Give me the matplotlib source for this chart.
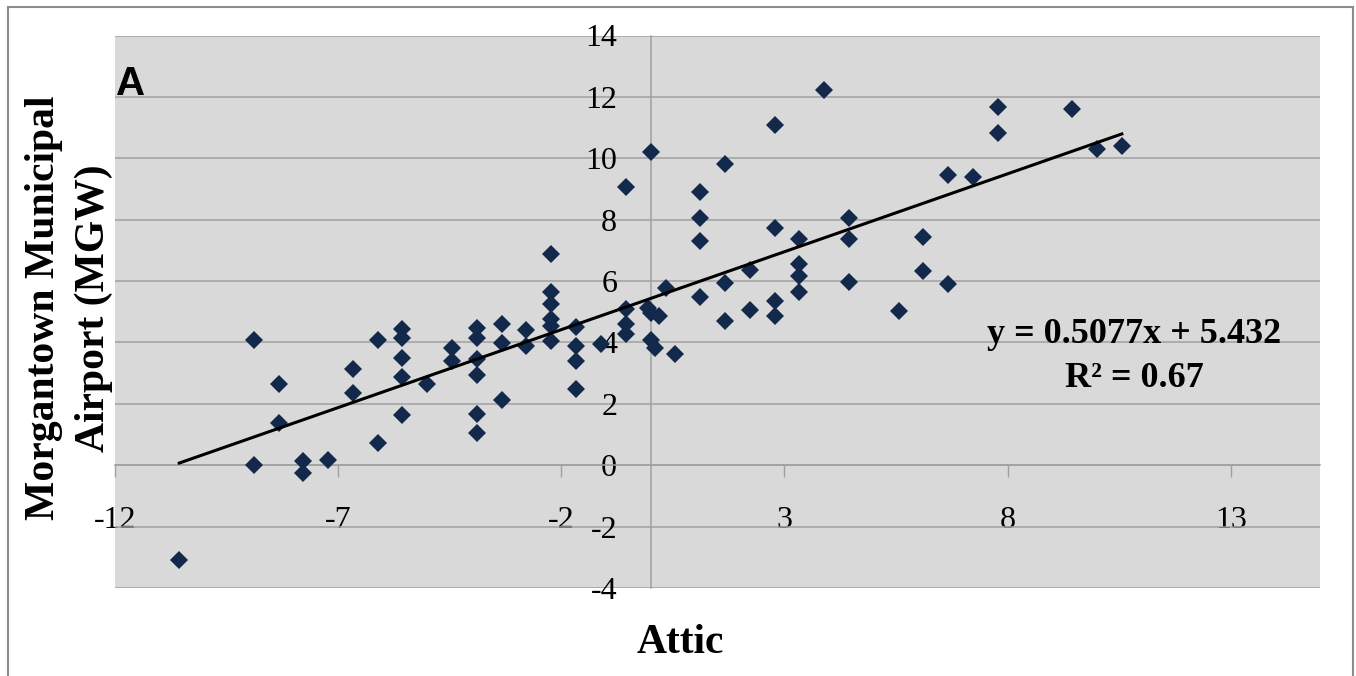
import numpy as np
import matplotlib
matplotlib.use("Agg")
import matplotlib.pyplot as plt
from matplotlib.patches import Rectangle

plt.rcParams['axes.unicode_minus'] = False

# Attic vs Morgantown Municipal Airport (MGW)
attic = [-10.56,
         -8.89, -8.89,
         -8.33, -8.33,
         -7.78, -7.78,
         -7.22,
         -6.67, -6.67,
         -6.11, -6.11,
         -5.56, -5.56, -5.56, -5.56, -5.56,
         -5.00,
         -4.44, -4.44,
         -3.89, -3.89, -3.89, -3.89, -3.89, -3.89,
         -3.33, -3.33, -3.33,
         -2.78, -2.78,
         -2.22, -2.22, -2.22, -2.22, -2.22, -2.22,
         -1.67, -1.67, -1.67, -1.67,
         -1.11,
         -0.56, -0.56, -0.56, -0.56,
         -0.05, 0.00, 0.00, 0.00,
         0.10, 0.20, 0.35, 0.54,
         1.11, 1.11, 1.11, 1.11,
         1.67, 1.67, 1.67,
         2.22, 2.22,
         2.78, 2.78, 2.78, 2.78,
         3.33, 3.33, 3.33, 3.33,
         3.89,
         4.44, 4.44, 4.44,
         5.56,
         6.11, 6.11,
         6.67, 6.67,
         7.22,
         7.78, 7.78,
         9.44, 10.00, 10.56]
mgw = [-3.10,
       4.08, 0.00,
       2.65, 1.38,
       0.14, -0.25,
       0.16,
       3.14, 2.35,
       4.07, 0.73,
       4.43, 4.16, 3.49, 2.87, 1.63,
       2.63,
       3.82, 3.40,
       4.48, 4.16, 3.45, 2.94, 1.68, 1.06,
       4.60, 3.98, 2.13,
       4.39, 3.89,
       6.88, 5.63, 5.25, 4.76, 4.55, 4.05,
       4.49, 3.89, 3.40, 2.47,
       3.95,
       9.07, 5.09, 4.60, 4.27,
       5.12, 10.19, 4.95, 4.08,
       3.82, 4.87, 5.79, 3.62,
       8.89, 8.05, 7.31, 5.49,
       9.81, 5.95, 4.70,
       6.36, 5.05,
       11.10, 7.74, 5.36, 4.86,
       7.37, 6.57, 6.17, 5.63,
       12.24,
       8.05, 7.37, 5.98,
       5.01,
       7.44, 6.34,
       9.47, 5.90,
       9.38,
       11.68, 10.81,
       11.61, 10.30, 10.39]

trend_slope = 0.5077
trend_intercept = 5.432
r_squared = 0.67

x_ticks = [-12, -7, -2, 3, 8, 13]
y_ticks = [-4, -2, 0, 2, 4, 6, 8, 10, 12, 14]

W, H = 1356, 676
fig = plt.figure(figsize=(W / 100, H / 100), dpi=100)

# outer chart border
fig.patches.append(Rectangle((8 / W, -0.01), (1353 - 8) / W, 1 - 7 / H + 0.01,
                             transform=fig.transFigure, fill=False,
                             edgecolor='#8c8c8c', linewidth=1.5))

ax = fig.add_axes([115 / W, 1 - 588 / H, (1320 - 115) / W, (588 - 35.5) / H])
ax.set_facecolor('#d9d9d9')
ax.set_xlim(-12, 15)
ax.set_ylim(-4, 14)
ax.set_xticks(x_ticks)
ax.set_xticklabels([str(t) for t in x_ticks])
ax.set_yticks(y_ticks)
ax.set_yticklabels([str(t) for t in y_ticks])

ax.set_axisbelow(True)
ax.yaxis.grid(True, color='#a0a0a0', linewidth=1.1)
ax.xaxis.grid(False)

for s in ['top', 'right']:
    ax.spines[s].set_visible(False)
ax.spines['left'].set_position(('data', 0))
ax.spines['bottom'].set_position(('data', 0))
for s in ['left', 'bottom']:
    ax.spines[s].set_color('#a0a0a0')
    ax.spines[s].set_linewidth(1.1)

ax.tick_params(axis='x', direction='out', length=8.5, width=1.0, color='#a0a0a0',
               labelsize=23, pad=21)
ax.tick_params(axis='y', length=0, labelsize=23, pad=24)
for lab in ax.get_xticklabels() + ax.get_yticklabels():
    lab.set_fontfamily('Liberation Serif')

ax.plot(attic, mgw, linestyle='none', marker='D', markersize=9,
        markerfacecolor='#13294b', markeredgewidth=0, zorder=3, clip_on=False)

xt = np.array([min(attic), max(attic)])
ax.plot(xt, trend_slope * xt + trend_intercept, color='black', linewidth=2.2, zorder=4)

# texts
fig.text(116 / W, 1 - 95 / H, 'A', fontsize=29, fontweight='bold',
         family='Liberation Sans', ha='left', va='baseline')
fig.text(1134 / W, 1 - 343 / H, 'y = %.4fx + %.3f' % (trend_slope, trend_intercept),
         fontsize=26, fontweight='bold', family='Liberation Serif',
         ha='center', va='baseline')
fig.text(1134 / W, 1 - 387 / H, 'R² = %.2f' % r_squared,
         fontsize=26, fontweight='bold', family='Liberation Serif',
         ha='center', va='baseline')
fig.text(680 / W, 1 - 653 / H, 'Attic', fontsize=30, fontweight='bold',
         family='Liberation Serif', ha='center', va='baseline')
fig.text(44 / W, 1 - 308 / H, 'Morgantown Municipal', fontsize=30,
         fontweight='bold', family='Liberation Serif', rotation=90,
         ha='center', va='center')
fig.text(94 / W, 1 - 308 / H, 'Airport (MGW)', fontsize=30,
         fontweight='bold', family='Liberation Serif', rotation=90,
         ha='center', va='center')

fig.savefig('out.png', dpi=100)
